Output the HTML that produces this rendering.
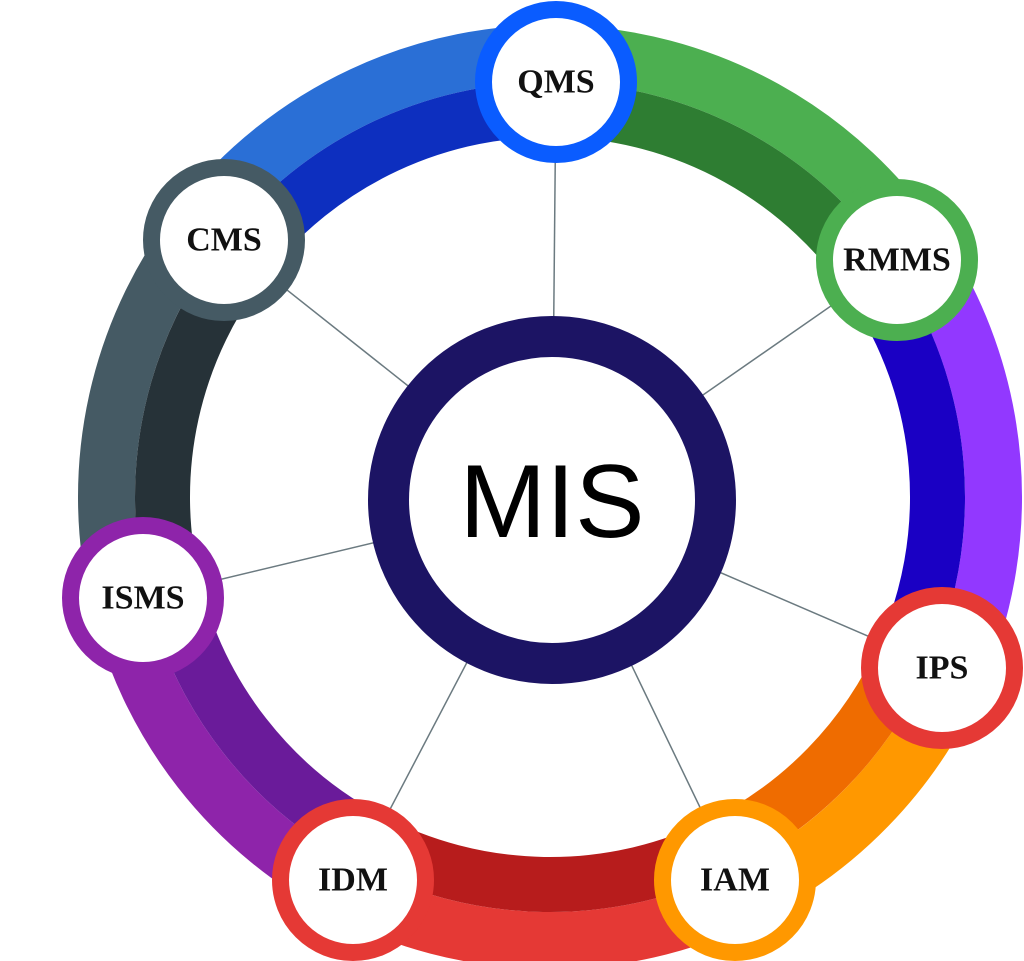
<!DOCTYPE html>
<html><head><meta charset="utf-8"><style>
html,body{margin:0;padding:0;background:#fff;width:1024px;height:961px;overflow:hidden;}
svg{display:block}
.n{font-family:"Liberation Serif",serif;font-weight:bold;font-size:34px;fill:#111;text-anchor:middle;dominant-baseline:central}
</style></head><body>
<svg width="1024" height="961" viewBox="0 0 1024 961" xmlns="http://www.w3.org/2000/svg">
<g fill="none">
<circle cx="550" cy="497" r="443.5" stroke-width="57" pathLength="360" stroke="#4caf50" stroke-dasharray="56 304" transform="rotate(-89 550 497)"/>
<circle cx="550" cy="497" r="443.5" stroke-width="57" pathLength="360" stroke="#9238ff" stroke-dasharray="58.6 301.4" transform="rotate(-34 550 497)"/>
<circle cx="550" cy="497" r="443.5" stroke-width="57" pathLength="360" stroke="#ff9800" stroke-dasharray="41.4 318.6" transform="rotate(23.6 550 497)"/>
<circle cx="550" cy="497" r="443.5" stroke-width="57" pathLength="360" stroke="#e53935" stroke-dasharray="54 306" transform="rotate(64 550 497)"/>
<circle cx="550" cy="497" r="443.5" stroke-width="57" pathLength="360" stroke="#8e24aa" stroke-dasharray="50 310" transform="rotate(117 550 497)"/>
<circle cx="550" cy="497" r="443.5" stroke-width="57" pathLength="360" stroke="#455a64" stroke-dasharray="53 307" transform="rotate(166 550 497)"/>
<circle cx="550" cy="497" r="443.5" stroke-width="57" pathLength="360" stroke="#2a6fd6" stroke-dasharray="54 306" transform="rotate(218 550 497)"/>
<circle cx="550" cy="497" r="387.5" stroke-width="55" pathLength="360" stroke="#2e7d32" stroke-dasharray="56 304" transform="rotate(-89 550 497)"/>
<circle cx="550" cy="497" r="387.5" stroke-width="55" pathLength="360" stroke="#1a00c4" stroke-dasharray="58.6 301.4" transform="rotate(-34 550 497)"/>
<circle cx="550" cy="497" r="387.5" stroke-width="55" pathLength="360" stroke="#ef6c00" stroke-dasharray="41.4 318.6" transform="rotate(23.6 550 497)"/>
<circle cx="550" cy="497" r="387.5" stroke-width="55" pathLength="360" stroke="#b71c1c" stroke-dasharray="54 306" transform="rotate(64 550 497)"/>
<circle cx="550" cy="497" r="387.5" stroke-width="55" pathLength="360" stroke="#6a1b9a" stroke-dasharray="50 310" transform="rotate(117 550 497)"/>
<circle cx="550" cy="497" r="387.5" stroke-width="55" pathLength="360" stroke="#263238" stroke-dasharray="53 307" transform="rotate(166 550 497)"/>
<circle cx="550" cy="497" r="387.5" stroke-width="55" pathLength="360" stroke="#0d2fbf" stroke-dasharray="54 306" transform="rotate(218 550 497)"/>
</g>
<g stroke="#6b7a80" stroke-width="1.5">
<line x1="552" y1="500" x2="556" y2="82"/>
<line x1="552" y1="500" x2="224" y2="240"/>
<line x1="552" y1="500" x2="897" y2="260"/>
<line x1="552" y1="500" x2="143" y2="598"/>
<line x1="552" y1="500" x2="942" y2="668"/>
<line x1="552" y1="500" x2="353" y2="880"/>
<line x1="552" y1="500" x2="735" y2="880"/>
</g>
<circle cx="552" cy="500" r="163.5" fill="#fff" stroke="#1c1464" stroke-width="41"/>
<text x="552" y="502" font-family="Liberation Sans, sans-serif" font-size="104" fill="#000" text-anchor="middle" dominant-baseline="central">MIS</text>
<g fill="#fff" stroke-width="17">
<circle cx="556" cy="82" r="72.5" stroke="#0a5cff"/>
<circle cx="224" cy="240" r="72.5" stroke="#455a64"/>
<circle cx="897" cy="260" r="72.5" stroke="#4caf50"/>
<circle cx="143" cy="598" r="72.5" stroke="#8e24aa"/>
<circle cx="942" cy="668" r="72.5" stroke="#e53935"/>
<circle cx="353" cy="880" r="72.5" stroke="#e53935"/>
<circle cx="735" cy="880" r="72.5" stroke="#ff9800"/>
</g>
<text class="n" x="556" y="82">QMS</text>
<text class="n" x="224" y="240">CMS</text>
<text class="n" x="897" y="260">RMMS</text>
<text class="n" x="143" y="598">ISMS</text>
<text class="n" x="942" y="668">IPS</text>
<text class="n" x="353" y="880">IDM</text>
<text class="n" x="735" y="880">IAM</text>
</svg>
</body></html>
